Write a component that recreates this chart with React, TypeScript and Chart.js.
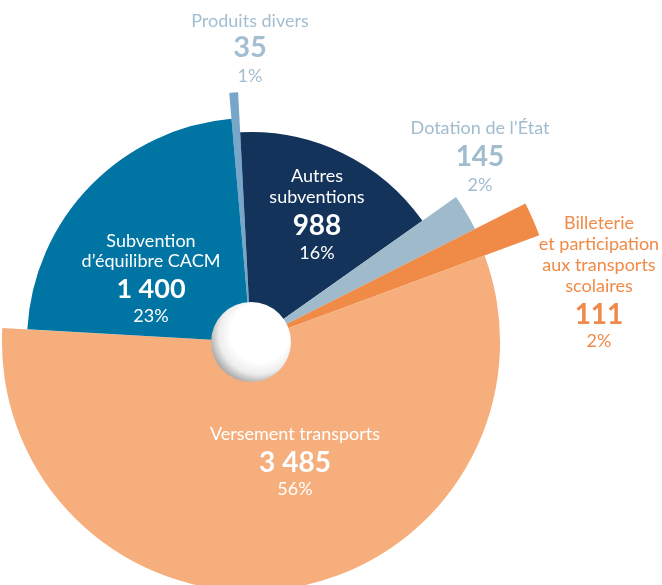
import React, { useEffect, useRef } from "react";
import { Chart, registerables } from "chart.js";

Chart.register(...registerables);

// ---- Data (clockwise from the top) ----
const categories: string[][] = [
  ["Produits divers"],
  ["Autres", "subventions"],
  ["Dotation de l’État"],
  ["Billeterie", "et participation", "aux transports", "scolaires"],
  ["Versement transports"],
  ["Subvention", "d’équilibre CACM"],
];
const values: number[] = [35, 988, 145, 111, 3485, 1400];
const percentLabels: string[] = ["1%", "16%", "2%", "2%", "56%", "23%"];

// ---- Styles ----
const sliceColors = ["#77a6c9", "#13335a", "#9fbacb", "#f08a47", "#f6ae7c", "#0074a3"];
const radiusScale = [1.029, 0.864, 1.033, 1.265, 1.025, 0.922];
const textColors = ["#a3bed0", "#ffffff", "#a0bccd", "#f08a47", "#ffffff", "#ffffff"];

type LabelLayout = { cx: number; names: number[]; value: number; pct: number; valueSize: number };
const labelLayout: LabelLayout[] = [
  { cx: 250, names: [28], value: 58, pct: 83, valueSize: 29 },
  { cx: 317, names: [183, 204], value: 236, pct: 260, valueSize: 28 },
  { cx: 480, names: [135], value: 167, pct: 192, valueSize: 28 },
  { cx: 599, names: [230, 251, 272, 293], value: 325, pct: 348, valueSize: 28 },
  { cx: 295, names: [441], value: 473, pct: 496, valueSize: 28 },
  { cx: 151, names: [248, 268], value: 299, pct: 323, valueSize: 27 },
];

const FONT = "Lato, 'Open Sans', sans-serif";
const NAME_SIZE = 18;

function fmt(v: number): string {
  return String(v).replace(/\B(?=(\d{3})+(?!\d))/g, "\u00a0");
}

const shapePlugin = {
  id: "shapePlugin",
  afterDatasetsUpdate(chart: any) {
    const meta = chart.getDatasetMeta(0);
    meta.data.forEach((arc: any, i: number) => {
      arc.outerRadius = arc.outerRadius * radiusScale[i];
    });
  },
  afterDatasetsDraw(chart: any) {
    const meta = chart.getDatasetMeta(0);
    const a = meta.data[0];
    if (!a) return;
    const ctx = chart.ctx as CanvasRenderingContext2D;
    const cx = a.x;
    const cy = a.y;
    const r = 40;
    ctx.save();
    const g = ctx.createRadialGradient(cx + 14, cy - 14, 0, cx + 6, cy - 6, 50);
    g.addColorStop(0, "#ffffff");
    g.addColorStop(0.6, "#ffffff");
    g.addColorStop(0.8, "#ececec");
    g.addColorStop(1, "#9c9c9c");
    ctx.beginPath();
    ctx.arc(cx, cy, r, 0, Math.PI * 2);
    ctx.fillStyle = g;
    ctx.fill();
    ctx.restore();
  },
};

function Line({ text, cx, baseline, size, weight, color }: { text: string; cx: number; baseline: number; size: number; weight: number; color: string }) {
  const lh = size * 1.2;
  return (
    <div
      style={{
        position: "absolute",
        left: cx - 150,
        width: 300,
        top: baseline - 0.987 * size,
        height: lh,
        lineHeight: `${lh}px`,
        fontSize: size,
        fontWeight: weight,
        color,
        textAlign: "center",
        whiteSpace: "nowrap",
        fontFamily: FONT,
      }}
    >
      {text}
    </div>
  );
}

export default function App() {
  const canvasRef = useRef<HTMLCanvasElement | null>(null);

  useEffect(() => {
    if (!canvasRef.current) return;
    const chart = new Chart(canvasRef.current, {
      type: "doughnut",
      data: {
        labels: categories.map((c) => c.join(" ")),
        datasets: [
          {
            data: values,
            backgroundColor: sliceColors,
            borderWidth: 0,
            clip: false as any,
          },
        ],
      },
      options: {
        responsive: false,
        animation: false,
        events: [],
        cutout: 0,
        rotation: -5,
        layout: { padding: { left: 0, right: 160, top: 99, bottom: 0 } },
        plugins: {
          legend: { display: false },
          tooltip: { enabled: false },
        },
      },
      plugins: [shapePlugin],
    });
    return () => chart.destroy();
  }, []);

  return (
    <div style={{ position: "absolute", left: 0, top: 0, width: 662, height: 585, overflow: "hidden", background: "#fff" }}>
      <canvas ref={canvasRef} width={662} height={585} style={{ position: "absolute", left: 0, top: 0, display: "block" }} />
      {labelLayout.map((L, i) => (
        <React.Fragment key={i}>
          {categories[i].map((t, j) => (
            <Line key={"n" + j} text={t} cx={L.cx} baseline={L.names[j]} size={NAME_SIZE} weight={400} color={textColors[i]} />
          ))}
          <Line text={fmt(values[i])} cx={L.cx} baseline={L.value} size={L.valueSize} weight={700} color={textColors[i]} />
          <Line text={percentLabels[i]} cx={L.cx} baseline={L.pct} size={NAME_SIZE} weight={400} color={textColors[i]} />
        </React.Fragment>
      ))}
    </div>
  );
}
